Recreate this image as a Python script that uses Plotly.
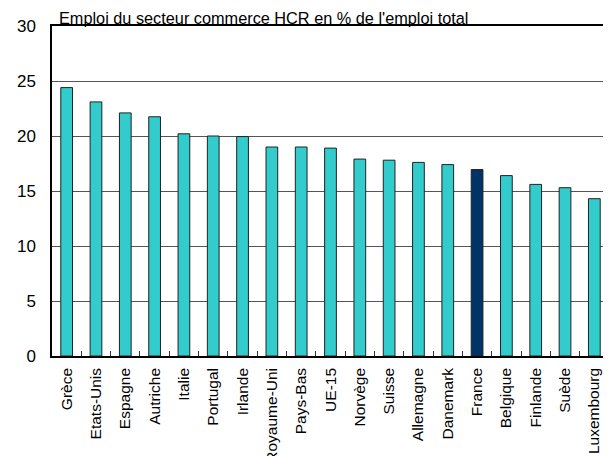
import plotly.graph_objects as go

countries = ["Grèce", "Etats-Unis", "Espagne", "Autriche", "Italie", "Portugal", "Irlande",
             "Royaume-Uni", "Pays-Bas", "UE-15", "Norvège", "Suisse", "Allemagne", "Danemark",
             "France", "Belgique", "Finlande", "Suède", "Luxembourg"]
values = [24.4, 23.1, 22.1, 21.75, 20.2, 20.0, 19.95, 19.0, 19.0, 18.9, 17.9, 17.8, 17.6,
          17.4, 16.95, 16.4, 15.6, 15.3, 14.3]
highlight = "France"
y_ticks = [0, 5, 10, 15, 20, 25, 30]
title_text = "Emploi du secteur commerce HCR en % de l'emploi total"

colors = ["#003366" if c == highlight else "#33CCCC" for c in countries]

fig = go.Figure(go.Bar(
    x=countries, y=values,
    marker=dict(color=colors, line=dict(color="#222222", width=1)),
    width=0.4,
))

font = "Liberation Sans, Arial, Helvetica, sans-serif"
# page body has an 8px default margin: figure is 603x448 placed at (8, 8)
fig.update_layout(
    width=603, height=448,
    margin=dict(l=44, r=2, t=18, b=100),
    paper_bgcolor="white", plot_bgcolor="white",
    showlegend=False,
    font=dict(family=font, color="black"),
    annotations=[dict(
        text=title_text, xref="paper", yref="paper", x=0.009, y=1.0,
        xanchor="left", yanchor="bottom", showarrow=False,
        font=dict(size=16.3, family=font, color="black"), yshift=-3,
    )],
)
fig.update_xaxes(
    type="category", showline=True, linecolor="black", linewidth=1.5, mirror=True,
    ticks="inside", tickson="boundaries", ticklen=5, tickcolor="#333333",
    tickangle=-90, tickfont=dict(size=15.5), automargin=False,
    showgrid=False, ticklabelstandoff=4,
)
fig.update_yaxes(
    range=[0, 30], tickvals=y_ticks, showline=True, linecolor="black", linewidth=1.5,
    showgrid=True, gridcolor="#555555", gridwidth=1, zeroline=False,
    tickfont=dict(size=17), ticks="", automargin=False, ticklabelstandoff=11,
)

fig.write_html("out.html")
